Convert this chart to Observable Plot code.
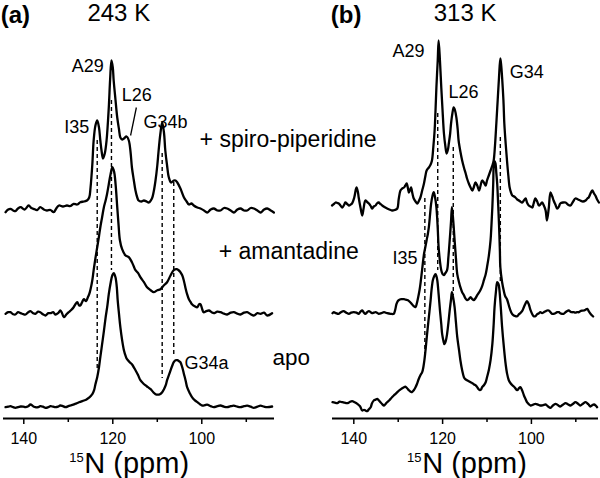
<!DOCTYPE html>
<html><head><meta charset="utf-8">
<script src="https://cdn.jsdelivr.net/npm/d3@7"></script>
<script src="https://cdn.jsdelivr.net/npm/@observablehq/plot@0.6"></script>
<style>
body{margin:0;background:#fff;}
#wrap{position:relative;width:600px;height:478px;}
#wrap svg{position:absolute;left:0;top:0;}
</style></head><body><div id="wrap"></div>
<script>
// ---- tick values (ppm) ----
const majorTicks = [140, 120, 100];
const minorTicks = [130, 110, 90];

// ---- spectra: [ppm, intensity above own baseline] ----
const spiroA = [[144.1,-2.7],[143.5,0],[143.0,0.7],[142.4,-1],[141.9,-1.7],[141.3,1],[140.7,2.3],[139.8,0],[138.9,4],[138.3,1.5],[137.8,0.7],[137.0,-0.5],[136.3,2.3],[135.5,0],[134.8,-1],[134.0,-0.5],[133.3,-2.7],[132.7,1],[132.1,4],[131.2,3],[130.3,4],[129.5,3.5],[128.8,5.7],[128.0,5],[127.3,7.3],[126.5,8],[125.8,9],[125.3,12],[125.0,22],[124.6,45],[124.3,69],[123.9,84],[123.5,89],[123.1,82],[122.8,69],[122.5,58],[122.2,51],[121.8,56],[121.4,69],[120.9,102],[120.6,130],[120.3,149],[120.0,142],[119.8,129],[119.4,110],[119.0,92],[118.6,80],[118.3,72],[117.9,70],[117.5,71],[116.9,73],[116.4,69],[116.0,57],[115.7,42],[115.3,30],[114.9,19],[114.5,12],[114.2,9],[113.6,8],[113.0,9],[112.4,8],[111.9,7],[111.2,11],[110.8,18],[110.4,29],[110.0,44],[109.7,59],[109.3,76],[108.9,87],[108.5,77],[108.2,59],[107.8,44],[107.4,32],[106.9,27],[106.3,29],[105.9,29],[105.5,27],[104.8,21],[104.0,12],[103.4,8],[102.9,5],[102.3,6],[101.8,4],[101.0,2],[100.3,1],[99.5,-1],[98.8,-3],[98.0,0],[97.3,1],[96.5,-1],[95.8,-1],[95.0,1.5],[94.3,1],[93.5,-1],[92.8,-3],[92.0,0],[91.3,1],[90.5,-1],[89.8,-1],[89.0,1.5],[88.3,1],[87.5,-1],[86.8,-3],[86.0,0],[85.3,1],[84.5,-1],[83.8,-3]];
const amanA = [[144.1,-0.6],[143.5,1],[143.0,1],[142.4,-1],[141.9,-1.3],[141.3,1],[140.7,0],[140.1,-1],[139.6,-1.3],[139.0,1],[138.5,2],[137.9,0],[137.4,-0.6],[136.8,1.5],[136.3,1],[135.7,-1],[135.1,-2.3],[134.5,0],[134.0,0],[133.4,1],[132.9,-1.3],[132.3,0],[131.8,2.7],[131.4,0],[131.0,-4],[130.4,-1],[129.9,1],[129.4,3],[128.8,6],[128.4,9],[128.0,11],[127.6,8],[127.3,7.7],[126.9,11],[126.5,14],[126.0,12],[125.6,16],[125.3,19],[125.0,24],[124.6,33],[124.3,43],[123.9,55],[123.5,66],[123.1,77],[122.8,86],[122.4,96],[122.0,106],[121.6,113],[121.3,119],[120.9,129],[120.5,139],[120.1,146],[119.8,143],[119.6,139],[119.3,125],[119.0,106],[118.7,88],[118.4,73],[117.9,64],[117.2,58],[116.4,56],[115.7,51],[115.3,47],[114.9,43],[114.3,40],[113.8,36],[113.0,31],[112.3,26],[111.5,23],[110.8,21],[110.0,23],[109.3,24],[108.5,28],[107.8,31],[107.0,38],[106.3,43],[105.7,44],[105.2,43],[104.8,41],[104.4,38],[104.0,32],[103.7,26],[103.3,19],[102.9,14],[102.5,11],[102.2,9],[101.6,7],[101.0,6],[100.6,9],[100.3,9],[99.9,4],[99.6,1],[99.0,2],[98.4,2.7],[97.8,1],[97.3,0],[96.5,1.5],[95.8,1],[95.0,-0.5],[94.3,-1.3],[93.5,0.5],[92.8,1],[92.0,-0.5],[91.3,-1.3],[90.5,0.5],[89.8,1],[89.0,-1],[88.3,-2.3],[87.5,0],[86.8,-0.6],[86.0,0.5],[85.3,-2.3],[84.2,0]];
const apoA = [[144.1,0],[143.5,0.5],[143.0,1],[142.4,0],[141.9,-0.6],[141.3,0],[140.7,0.7],[140.1,0.5],[139.6,0],[139.0,1],[138.5,2.7],[137.9,1],[137.4,0],[136.8,0],[136.3,1],[135.7,0.5],[135.1,-0.6],[134.5,0],[134.0,1],[133.4,0.5],[132.9,0],[132.3,0.5],[131.8,1.7],[131.2,1],[130.6,0],[130.0,1],[129.5,1.7],[128.9,2.5],[128.4,3.4],[127.6,5],[126.5,6.7],[126.0,7.5],[125.4,9.4],[125.0,11],[124.6,13],[124.2,17],[123.9,23],[123.5,30],[123.1,40],[122.8,50],[122.4,63],[122.0,76],[121.6,90],[121.2,102],[120.9,113],[120.5,124],[120.1,132],[119.8,134],[119.4,130],[119.1,120],[118.9,107],[118.6,93],[118.3,80],[117.9,67],[117.5,57],[117.1,51],[116.8,48],[116.2,45],[115.7,43],[115.3,40],[114.9,37],[114.3,32],[113.8,27],[113.2,24],[112.7,22],[112.1,20],[111.5,18],[110.9,15],[110.4,13],[109.9,12.5],[109.4,13],[108.9,15],[108.5,18],[108.1,22],[107.8,27],[107.4,32],[107.0,37],[106.6,42],[106.3,45],[105.9,47],[105.5,47],[105.1,46],[104.8,45],[104.4,40],[104.0,33],[103.6,26],[103.3,20],[102.7,14],[102.2,10],[101.6,7],[101.0,5],[100.4,3],[99.9,1.7],[99.3,2],[98.8,2.5],[98.0,1],[97.3,0],[96.5,1],[95.8,1.7],[95.0,0.5],[94.3,0],[93.5,1],[92.8,1.5],[92.0,0.5],[91.3,0],[90.5,1],[89.8,1.5],[89.0,0.5],[88.3,-0.6],[87.5,0.5],[86.8,1.5],[86.0,0.5],[85.3,0],[84.2,0.7]];

const spiroB = [[144.9,0],[144.5,1.5],[144.1,3],[143.7,2.5],[143.4,2],[143.0,0],[142.6,-2],[142.2,0.5],[141.9,3],[141.5,1.5],[141.1,0],[140.7,1],[140.4,2],[139.9,8],[139.4,18],[139.1,14],[138.9,8],[138.5,-2],[138.1,-10],[137.8,-3],[137.4,5],[137.0,3.5],[136.6,2],[136.2,-0.5],[135.9,-3],[135.5,-1],[135.1,0],[134.8,2],[134.4,3],[134.0,1.5],[133.6,0],[133.1,-1.5],[132.5,-3],[132.0,-4],[131.4,-5],[130.8,-4.5],[130.2,-3],[129.9,6],[129.5,15],[129.1,17],[128.7,18],[128.4,20],[128.1,22],[127.8,17],[127.6,13],[127.3,16],[127.1,18],[126.8,12],[126.5,7],[126.1,4],[125.7,2],[125.3,5],[125.0,8],[124.6,15],[124.2,22],[123.9,29],[123.6,35],[123.1,38],[122.7,41],[122.4,45],[122.1,58],[121.8,75],[121.6,95],[121.4,118],[121.1,145],[120.9,165],[120.6,145],[120.3,118],[120.0,94],[119.7,72],[119.4,60],[119.1,52],[118.8,56],[118.6,62],[118.3,72],[118.1,82],[117.8,92],[117.5,98],[117.2,95],[116.9,88],[116.6,76],[116.4,65],[116.0,54],[115.6,45],[115.2,38],[114.8,32],[114.5,27],[114.1,22],[113.7,18],[113.3,15],[113.0,18],[112.6,23],[112.2,20],[111.8,15],[111.5,19],[111.1,25],[110.7,23],[110.3,20],[110.0,25],[109.6,30],[109.2,35],[108.8,40],[108.5,45],[108.2,60],[107.9,82],[107.6,105],[107.3,128],[107.0,147],[106.8,140],[106.6,128],[106.3,105],[106.1,82],[105.8,62],[105.5,45],[105.2,30],[104.9,18],[104.6,13],[104.3,10],[103.9,9],[103.6,8],[103.2,6],[102.8,5],[102.5,4],[102.1,3],[101.7,5],[101.3,7],[101.0,3],[100.6,0],[100.2,-1],[99.8,-2],[99.5,2],[99.1,7],[98.7,4],[98.3,0],[98.0,1],[97.6,3],[97.2,0],[96.8,-5],[96.5,-15],[96.1,-3],[95.7,13],[95.3,9],[95.0,5],[94.6,1],[94.2,-3],[93.8,-1],[93.5,2],[92.9,3],[92.3,3],[91.8,1],[91.2,0],[90.6,4],[90.1,7],[89.5,6],[89.0,5],[88.4,4],[87.8,5],[87.4,7],[87.1,8],[86.7,12],[86.3,15],[85.9,12],[85.6,10],[85.2,6],[84.8,3]];
const amanB = [[144.8,0],[144.5,1],[144.0,0],[143.4,-0.6],[142.9,1],[142.3,2],[141.7,0.5],[141.1,-0.6],[140.6,0.5],[140.0,1],[139.4,0.5],[138.9,-0.6],[138.5,1.5],[138.1,2.7],[137.8,1],[137.4,-0.6],[137.0,1],[136.6,2],[136.2,1],[135.9,0],[135.5,0.5],[135.1,1],[134.8,0.5],[134.4,-0.6],[133.8,0],[133.2,1],[132.5,0],[131.7,-0.6],[131.0,-0.6],[130.7,3],[130.4,9],[130.1,12],[129.9,13],[129.3,14],[128.7,14],[128.3,13.5],[127.8,13],[127.3,11],[126.9,9],[126.5,7],[126.1,6],[125.8,10],[125.5,16],[125.2,23],[125.0,29],[124.6,44],[124.2,59],[123.9,66],[123.6,73],[123.3,80],[123.1,86],[122.8,100],[122.6,109],[122.3,117],[122.0,121],[121.7,116],[121.4,106],[121.1,85],[120.9,66],[120.6,52],[120.3,43],[120.0,39],[119.7,38],[119.4,40],[119.0,43],[118.7,56],[118.4,73],[118.1,92],[117.9,106],[117.6,92],[117.3,73],[117.0,55],[116.7,39],[116.3,31],[116.0,26],[115.6,21],[115.2,18],[114.9,15],[114.5,13],[114.1,14],[113.7,16],[113.3,14],[113.0,13],[112.6,15],[112.2,18],[111.9,20],[111.5,23],[111.1,27],[110.7,33],[110.3,39],[110.0,46],[109.6,57],[109.2,73],[109.0,88],[108.8,106],[108.6,130],[108.5,146],[108.3,152],[108.1,150],[107.9,140],[107.7,129],[107.5,110],[107.3,89],[107.1,62],[107.0,46],[106.6,31],[106.2,22],[105.9,17],[105.5,14],[104.9,5],[104.3,-1],[103.6,-3],[103.2,-3],[102.8,-1],[102.5,0],[102.1,2],[101.7,6],[101.3,10],[101.0,12],[100.6,9],[100.2,3],[99.8,-1],[99.5,-3],[99.1,-3],[98.7,-1],[98.3,0],[98.0,1],[97.6,0],[97.2,1],[96.8,2],[96.5,2.7],[96.1,2.7],[95.7,1],[95.4,-0.6],[95.0,-0.6],[94.6,0],[94.2,1],[93.8,1],[93.5,0],[93.1,-0.6],[92.7,-0.6],[92.3,1],[92.0,2],[91.6,2.7],[91.2,1.5],[90.9,1],[90.5,1],[90.1,0.5],[89.7,1],[89.3,1],[89.0,2],[88.6,2.5],[88.2,2.7],[87.8,3.5],[87.4,4.4],[87.1,2],[86.7,-0.6],[86.4,-2],[86.1,-3.3]];
const apoB = [[144.8,0],[144.3,-0.5],[143.7,-1],[143.2,0.5],[142.6,0],[142.1,-0.5],[141.5,-1],[141.0,0],[140.4,1],[139.8,0],[139.2,-1.6],[138.6,-4],[138.1,-8.3],[137.7,-7.6],[137.3,-8.5],[137.0,-9],[136.6,-7],[136.2,-5],[135.9,-1],[135.5,1.7],[135.1,2.5],[134.7,3.4],[134.4,2],[134.0,0],[133.6,-2],[133.2,-3.3],[132.8,-1.5],[132.5,0],[132.0,2],[131.4,5],[130.8,7.5],[130.2,10],[129.7,12],[129.1,14],[128.7,15],[128.4,15.5],[128.0,14],[127.6,12],[127.2,10.5],[126.9,10],[126.5,12],[126.1,15],[125.8,18],[125.4,23],[125.0,27],[124.6,30],[124.3,36],[124.1,42],[123.8,54],[123.5,68],[123.1,85],[122.7,102],[122.5,112],[122.2,122],[121.9,126],[121.6,128],[121.4,126],[121.2,122],[120.9,108],[120.6,92],[120.3,78],[120.1,68],[119.8,61],[119.6,58],[119.3,61],[119.0,68],[118.7,79],[118.4,92],[118.1,103],[117.9,110],[117.6,104],[117.3,95],[117.0,80],[116.7,65],[116.3,52],[116.0,42],[115.6,32],[115.2,25],[114.9,23],[114.5,22],[114.1,21],[113.7,20],[113.3,19],[113.0,18],[112.6,17],[112.2,15],[111.9,13],[111.6,12],[111.3,13],[111.1,15],[110.7,17],[110.3,20],[110.0,25],[109.6,32],[109.2,42],[108.8,58],[108.5,78],[108.3,95],[108.0,110],[107.7,120],[107.4,118],[107.2,112],[106.9,95],[106.6,75],[106.2,55],[105.8,38],[105.5,29],[105.1,22],[104.7,19],[104.3,17],[103.8,15],[103.2,12],[102.8,14],[102.5,15],[102.1,12],[101.7,7],[101.3,3],[101.0,0],[100.6,-2],[100.2,-3.3],[99.6,-2.5],[99.1,-1.6],[98.5,-2.5],[98.0,-3.3],[97.4,-3],[96.8,-2.3],[96.3,-4],[95.7,-5.6],[95.2,-3.5],[94.6,-1.6],[94.0,-3],[93.5,-4.3],[92.9,-2.5],[92.3,-1],[91.8,-2],[91.2,-3.3],[90.6,-1.5],[90.1,0],[89.5,-1.5],[89.0,-3.3],[88.4,-1.5],[87.8,0],[87.2,-2],[86.7,-4.3],[86.3,-3],[85.9,-2.3],[85.5,-3.5],[85.2,-5]];

// ---- peak positions marked by dashed guides (ppm) ----
const guidesA = [123.5, 120.3, 108.9, 106.3];
const guidesB = [124.0, 121.1, 117.6, 107.0];

// ---- text ----
const panelLetters = ["(a)", "(b)"];
const temperatures = ["243 K", "313 K"];
const sampleNames = ["+ spiro-piperidine", "+ amantadine", "apo"];
const peakNamesA = ["A29", "L26", "I35", "G34b", "G34a"];
const peakNamesB = ["A29", "L26", "G34", "I35"];
const axisSup = "15", axisMain = "N (ppm)";

const FONT = "'Liberation Sans', Arial, Helvetica, sans-serif";

function panel(cfg) {
  const rows = cfg.spectra.flatMap((s, i) => s.map(([ppm, v]) => ({ppm, y: v + cfg.offsets[i], k: i})));
  const guides = cfg.guides.map((ppm, i) => ({ppm, y1: cfg.guideSpan[i][0], y2: cfg.guideSpan[i][1]}));
  return Plot.plot({
    width: 600, height: 478,
    marginTop: 0, marginBottom: 60, marginLeft: cfg.marginLeft, marginRight: cfg.marginRight,
    style: {fontFamily: FONT, overflow: "visible", background: "transparent", color: "black"},
    x: {domain: cfg.domain},
    y: {domain: [0, 418], axis: null},
    marks: [
      Plot.ruleY([0], {strokeWidth: 2}),
      Plot.axisX({ticks: majorTicks, tickSize: 6, tickPadding: 8, fontSize: 16, label: null, strokeWidth: 1.5}),
      Plot.axisX({ticks: minorTicks, tickSize: 4, tickFormat: () => "", label: null, strokeWidth: 1.5}),
      Plot.ruleX(guides, {x: "ppm", y1: "y1", y2: "y2", strokeDasharray: "4,3", strokeWidth: 1.4}),
      Plot.line(rows, {x: "ppm", y: "y", z: "k", strokeWidth: 2.3, curve: "catmull-rom", strokeLinejoin: "round"}),
      ...(cfg.leader ? [Plot.link([cfg.leader], {x1: "x1", y1: "y1", x2: "x2", y2: "y2", strokeWidth: 1.3})] : []),
      Plot.text(cfg.texts, {x: "x", y: "y", text: "t", fontSize: "s", textAnchor: "start", lineAnchor: "bottom"}),
      Plot.text(cfg.bold, {x: "x", y: "y", text: "t", fontSize: "s", textAnchor: "start", lineAnchor: "bottom", fontWeight: "bold"})
    ]
  });
}

const svgA = panel({
  spectra: [spiroA, amanA, apoA], offsets: [209, 105.3, 11.3],
  domain: [144.56, 83.66], marginLeft: 3, marginRight: 326,
  guides: guidesA, guideSpan: [[278, 50], [318, 148], [265, 40], [236, 61]],
  leader: {x1: 114.7, y1: 311, x2: 116.0, y2: 283},
  bold: [{t: panelLetters[0], x: 145.2, y: 396, s: 24}],
  texts: [
    {t: temperatures[0], x: 125.7, y: 398, s: 24},
    {t: peakNamesA[0], x: 129.2, y: 347, s: 18},
    {t: peakNamesA[1], x: 118.0, y: 318, s: 18},
    {t: peakNamesA[2], x: 130.9, y: 286, s: 18},
    {t: peakNamesA[3], x: 113.1, y: 291, s: 18},
    {t: peakNamesA[4], x: 103.9, y: 50, s: 18},
    {t: sampleNames[0], x: 100.5, y: 272, s: 23},
    {t: sampleNames[1], x: 96.2, y: 160, s: 23},
    {t: sampleNames[2], x: 84.1, y: 54, s: 22.5},
    {t: axisSup, x: 129.8, y: -43, s: 13},
    {t: axisMain, x: 126.4, y: -54, s: 29}
  ]
});
const svgB = panel({
  spectra: [spiroB, amanB, apoB], offsets: [213, 105.3, 16.3],
  domain: [144.8, 84.89], marginLeft: 332, marginRight: 2,
  guides: guidesB, guideSpan: [[220, 61], [305, 148], [271, 123], [281, 136]],
  bold: [{t: panelLetters[1], x: 145.2, y: 396, s: 24}],
  texts: [
    {t: temperatures[1], x: 122.0, y: 398, s: 24},
    {t: peakNamesB[0], x: 131.3, y: 362, s: 18},
    {t: peakNamesB[1], x: 118.7, y: 321, s: 18},
    {t: peakNamesB[2], x: 104.9, y: 341, s: 18},
    {t: peakNamesB[3], x: 131.3, y: 155, s: 18},
    {t: axisSup, x: 128.0, y: -43, s: 13},
    {t: axisMain, x: 124.6, y: -54, s: 29}
  ]
});
document.getElementById("wrap").append(svgA, svgB);
</script></body></html>
